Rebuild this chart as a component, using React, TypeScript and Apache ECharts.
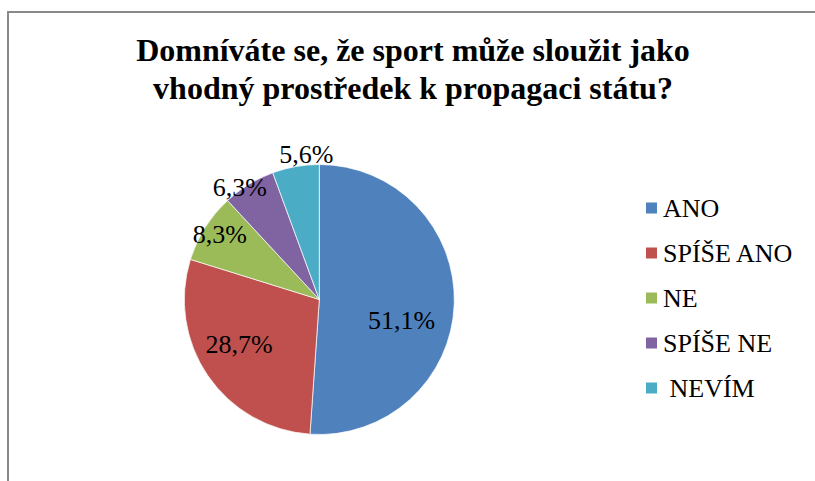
import React, { useEffect, useRef } from "react";
import * as echarts from "echarts";

const categories = ["ANO", "SPÍŠE ANO", "NE", "SPÍŠE NE", "NEVÍM"];
const values = [51.1, 28.7, 8.3, 6.3, 5.6];
const colors = ["#4F81BD", "#C0504D", "#9BBB59", "#8064A2", "#4BACC6"];
const titleText = "Domníváte se, že sport může sloužit jako\nvhodný prostředek k propagaci státu?";

// label placement (layout only): distance from centre and angular nudge in degrees
const labelRadii = [82, 89, 116, 134, 143];
const labelAngleShift = [12.6, 5, 1, -4, 5];

const FONT = "Liberation Serif";
const CENTER: [number, number] = [319.3, 299.5];
const R = 135;

const fmt = (v: number) => v.toFixed(1).replace(".", ",") + "%";

export default function App() {
  const ref = useRef<HTMLDivElement>(null);
  useEffect(() => {
    if (!ref.current) return;
    const chart = echarts.init(ref.current, undefined, { renderer: "svg" });
    const data = categories.map((name, i) => ({
      name,
      value: values[i],
      itemStyle: { color: colors[i] },
    }));
    const labelSeries = categories.map((_, k) => ({
      type: "pie",
      center: CENTER,
      radius: [labelRadii[k] - 4, labelRadii[k] + 4],
      startAngle: 90 - labelAngleShift[k],
      clockwise: true,
      silent: true,
      z: 5,
      emphasis: { disabled: true },
      itemStyle: { color: "rgba(0,0,0,0)", borderWidth: 0 },
      labelLine: { show: false },
      data: categories.map((name, i) => ({
        name,
        value: values[i],
        itemStyle: { color: "rgba(0,0,0,0)", borderWidth: 0 },
        label: {
          show: i === k,
          position: "inside",
          formatter: () => fmt(values[i]),
          color: "#000",
          fontFamily: FONT,
          fontSize: 26,
        },
      })),
    }));
    chart.setOption({
      animation: false,
      backgroundColor: "#fff",
      textStyle: { fontFamily: FONT },
      title: {
        text: titleText,
        left: 413,
        top: 31,
        textAlign: "center",
        padding: 0,
        textStyle: {
          fontFamily: FONT,
          fontWeight: "bold",
          fontSize: 32,
          lineHeight: 38,
          color: "#000",
        },
      },
      legend: {
        orient: "vertical",
        left: 644,
        top: 193,
        padding: 0,
        itemWidth: 13,
        itemHeight: 13,
        itemGap: 15,
        icon: "rect",
        selectedMode: false,
        data: categories,
        formatter: (n: string) => (n === "NEVÍM" ? "\u00a0NEVÍM" : n),
        textStyle: {
          fontFamily: FONT,
          fontSize: 26,
          lineHeight: 30,
          color: "#000",
        },
      },
      graphic: [
        {
          type: "line",
          shape: { x1: 7, y1: 12, x2: 815, y2: 12 },
          style: { stroke: "#898989", lineWidth: 2 },
        },
        {
          type: "line",
          shape: { x1: 8, y1: 11, x2: 8, y2: 481 },
          style: { stroke: "#898989", lineWidth: 2 },
        },
      ],
      series: [
        {
          type: "pie",
          center: CENTER,
          radius: [0, R],
          startAngle: 90,
          clockwise: true,
          silent: true,
          emphasis: { disabled: true },
          label: { show: false },
          labelLine: { show: false },
          itemStyle: { borderColor: "#ffffff", borderWidth: 0.7 },
          data,
        },
        ...labelSeries,
      ],
    });
    return () => chart.dispose();
  }, []);
  return (
    <div
      ref={ref}
      style={{ position: "fixed", left: 0, top: 0, width: 815, height: 481, background: "#fff" }}
    />
  );
}
